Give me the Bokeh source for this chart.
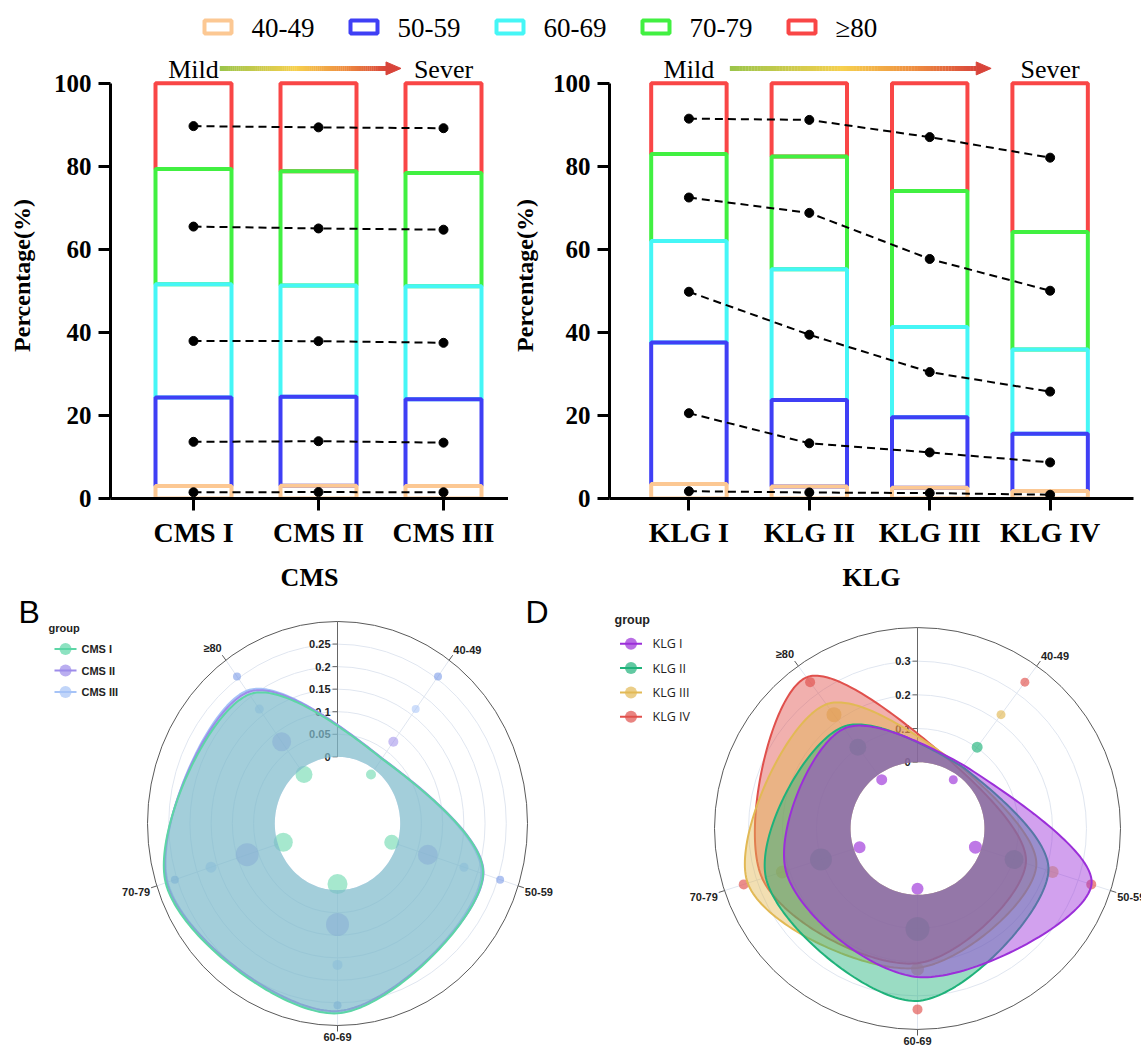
import math
import numpy as np
from bokeh.plotting import figure
from bokeh.layouts import column, row
from bokeh.models import Range1d, FixedTicker, Label
from bokeh.core.properties import value
from bokeh.embed import file_html
from bokeh.resources import INLINE

# ---------------- data ----------------
age_groups = ["40-49", "50-59", "60-69", "70-79", "≥80"]
cms_groups = ["CMS I", "CMS II", "CMS III"]
klg_groups = ["KLG I", "KLG II", "KLG III", "KLG IV"]

# percentage of each age group within each severity grade
cms_pct_40_49 = [3.0, 3.1, 3.0]
cms_pct_50_59 = [21.3, 21.4, 20.9]
cms_pct_60_69 = [27.3, 26.8, 27.2]
cms_pct_70_79 = [27.8, 27.5, 27.3]
cms_pct_80_up = [20.6, 21.2, 21.6]

klg_pct_40_49 = [3.5, 2.9, 2.6, 1.8]
klg_pct_50_59 = [34.1, 20.8, 17.0, 13.8]
klg_pct_60_69 = [24.4, 31.5, 21.7, 20.3]
klg_pct_70_79 = [21.0, 27.2, 32.8, 28.3]
klg_pct_80_up = [17.0, 17.6, 25.9, 35.8]

y_ticks = [0, 20, 40, 60, 80, 100]
cms_radial_ticks = [0, 0.05, 0.1, 0.15, 0.2, 0.25]
cms_radial_labels = ["0", "0.05", "0.1", "0.15", "0.2", "0.25"]
cms_radial_max = 0.3
klg_radial_ticks = [0, 0.1, 0.2, 0.3]
klg_radial_labels = ["0", "0.1", "0.2", "0.3"]
klg_radial_max = 0.4

# marker sizes of the dot rings on the radar panels (inner ring -> outer ring), per age group
cms_dot_ring1 = [10, 15, 20, 19, 17]
cms_dot_ring2 = [10, 20, 23, 23, 19]
cms_dot_ring3 = [8, 9, 10, 11, 9]
cms_dot_ring4 = [8, 8, 8, 8, 8]
klg_dot_ring1 = [9, 13, 12, 12, 11]
klg_dot_ring2 = [11, 19, 24, 22, 17]
klg_dot_ring3 = [9, 12, 13, 13, 15]
klg_dot_ring4 = [9, 10, 10, 10, 10]

# ---------------- styles ----------------
SERIF = "Liberation Serif"
SANS = "Liberation Sans"
AGE_COLORS = ["#fcc893", "#3f3ff5", "#45f6f6", "#41f041", "#f94646"]
CMS_COLORS = ["#5dd6a6", "#9d8cea", "#a6c3f7"]
CMS_DOT_COLORS = ["#5dd6a6", "#9d8cea", "#a6c3f7", "#6f92e6"]
KLG_COLORS = ["#9b2fd9", "#1fb27a", "#e2b955", "#e0504c"]
GRID = "#e0e6f0"
PX_PER_Y = 4.17
Y_END = 448 / PX_PER_Y


def grad_color(t):
    stops = [(0.0, (156, 197, 75)), (0.45, (246, 208, 78)), (0.75, (238, 140, 64)), (1.0, (216, 68, 58))]
    for (t0, c0), (t1, c1) in zip(stops[:-1], stops[1:]):
        if t <= t1:
            f = (t - t0) / (t1 - t0)
            c = [int(round(a + (b - a) * f)) for a, b in zip(c0, c1)]
            return "#%02x%02x%02x" % tuple(c)
    return "#d8443a"


def bar_panel(groups, pct_by_age, fig_w, border_left, border_right, x_start, x_end, px_per_x,
              x_title, letter, letter_x, arrow_x0, arrow_x1, title_standoff):
    p = figure(width=fig_w, height=550, x_range=Range1d(x_start, x_end),
               y_range=Range1d(0, Y_END), output_backend="svg", toolbar_location=None,
               min_border_left=border_left, min_border_right=border_right, min_border_top=8,
               min_border_bottom=94)
    p.outline_line_color = None
    p.xgrid.visible = False
    p.ygrid.visible = False
    idx = list(range(len(groups)))
    bar_w = 76.0 / px_per_x
    cum = np.zeros(len(groups))
    bottoms, tops = [], []
    for pct in pct_by_age:
        bottoms.append(cum.copy())
        cum = cum + np.array(pct, dtype=float)
        tops.append(cum.copy())
    for a in reversed(range(len(pct_by_age))):
        p.vbar(x=idx, bottom=bottoms[a], top=tops[a], width=bar_w, fill_color=None,
               line_color=AGE_COLORS[a], line_width=4)
    for a in range(len(pct_by_age)):
        mids = (bottoms[a] + tops[a]) / 2.0
        p.line(idx, mids, line_dash="8 5", line_width=2, line_color="black")
        p.scatter(idx, mids, size=9, color="black")

    # severity arrow with colour gradient
    y_ar = 103.6
    head_len = 15.0 / px_per_x
    half_h = 6.5 / PX_PER_Y
    n = 80
    xs = np.linspace(arrow_x0, arrow_x1 - head_len, n + 1)
    cols = [grad_color(i / n) for i in range(n)]
    p.segment(x0=xs[:-1], y0=[y_ar] * n, x1=xs[1:] + 0.002, y1=[y_ar] * n,
              line_color=cols, line_width=5)
    p.patch([arrow_x1 - head_len, arrow_x1 - head_len, arrow_x1],
            [y_ar - half_h, y_ar + half_h, y_ar], fill_color="#d8443a", line_color="#d8443a")
    p.text(x=[0, len(groups) - 1], y=[y_ar - 0.3, y_ar - 0.3], text=["Mild", "Sever"],
           text_font=value(SERIF), text_font_size="26px", text_align="center",
           text_baseline="middle", text_color="black")

    p.add_layout(Label(x=letter_x, y=100.6, text=letter, text_font=SANS,
                       text_font_size="32px", text_baseline="alphabetic", text_align="left",
                       text_color="black"))

    ya = p.yaxis[0]
    ya.ticker = FixedTicker(ticks=y_ticks)
    ya.bounds = (0, 100)
    ya.axis_line_width = 3
    ya.major_tick_line_width = 3
    ya.major_tick_out = 12
    ya.major_tick_in = 0
    ya.minor_tick_line_color = None
    ya.major_label_standoff = 7
    ya.major_label_text_font = SERIF
    ya.major_label_text_font_size = "25px"
    ya.major_label_text_font_style = "bold"
    ya.major_label_text_color = "black"
    ya.axis_label = "Percentage(%)"
    ya.axis_label_text_font = SERIF
    ya.axis_label_text_font_size = "24px"
    ya.axis_label_text_font_style = "bold"
    ya.axis_label_text_color = "black"
    ya.axis_label_standoff = title_standoff

    xa = p.xaxis[0]
    xa.ticker = FixedTicker(ticks=idx)
    xa.major_label_overrides = {i: g for i, g in enumerate(groups)}
    xa.axis_line_width = 3
    xa.major_tick_line_width = 3
    xa.major_tick_out = 12
    xa.major_tick_in = 0
    xa.minor_tick_line_color = None
    xa.major_label_standoff = 6
    xa.major_label_text_font = SERIF
    xa.major_label_text_font_size = "28px"
    xa.major_label_text_font_style = "bold"
    xa.major_label_text_color = "black"
    xa.axis_label = x_title
    xa.axis_label_text_font = SERIF
    xa.axis_label_text_font_size = "26px"
    xa.axis_label_text_font_style = "bold"
    xa.axis_label_text_color = "black"
    xa.axis_label_standoff = 12
    return p


def make_tangent(prev, this, nxt, s=1.0):
    d1x, d1y = prev[0] - this[0], prev[1] - this[1]
    d2x, d2y = nxt[0] - this[0], nxt[1] - this[1]
    d1a = (d1x * d1x + d1y * d1y) ** 0.25
    d2a = (d2x * d2x + d2y * d2y) ** 0.25
    numx = (d2a * d2a * d1x - d1a * d1a * d2x) * s
    numy = (d2a * d2a * d1y - d1a * d1a * d2y) * s
    den1 = 3 * d2a * (d1a + d2a)
    den2 = 3 * d1a * (d1a + d2a)
    return ((this[0] + numx / den1, this[1] + numy / den1),
            (this[0] - numx / den2, this[1] - numy / den2))


def open_spline(pts, n=50):
    """Smooth path through pts (first point repeated at the end), quadratic end pieces."""
    m = len(pts)
    tans = [make_tangent(pts[i - 1], pts[i], pts[i + 1]) for i in range(1, m - 1)]
    xs, ys = [], []
    ts = np.linspace(0, 1, n, endpoint=False)

    def quad(p0, c, p1):
        for t in ts:
            u = 1 - t
            xs.append(u * u * p0[0] + 2 * u * t * c[0] + t * t * p1[0])
            ys.append(u * u * p0[1] + 2 * u * t * c[1] + t * t * p1[1])

    def cubic(p0, p1, p2, p3):
        for t in ts:
            u = 1 - t
            xs.append(u ** 3 * p0[0] + 3 * u * u * t * p1[0] + 3 * u * t * t * p2[0] + t ** 3 * p3[0])
            ys.append(u ** 3 * p0[1] + 3 * u * u * t * p1[1] + 3 * u * t * t * p2[1] + t ** 3 * p3[1])

    quad(pts[0], tans[0][0], pts[1])
    for i in range(2, m - 1):
        cubic(pts[i - 1], tans[i - 2][1], tans[i - 1][0], pts[i])
    quad(pts[m - 2], tans[m - 3][1], pts[m - 1])
    xs.append(pts[m - 1][0])
    ys.append(pts[m - 1][1])
    return xs, ys


def radar_panel(fig_w, x_range, y_range, rx, ry, groups, pct_by_age, vmax, rticks, rlabels,
                colors, dot_colors, dot_rings, fill_alpha, dot_alpha, leg, letters, leg_font,
                leg_style, leg_size):
    p = figure(width=fig_w, height=451, x_range=Range1d(*x_range), y_range=Range1d(*y_range),
               output_backend="svg", toolbar_location=None, x_axis_location=None,
               y_axis_location=None, min_border=0)
    p.outline_line_color = None
    p.xgrid.visible = False
    p.ygrid.visible = False
    hole = 0.33
    angles = [math.radians(36 + 72 * a) for a in range(len(age_groups))]

    def rr(v):
        return hole + (1 - hole) * v / vmax

    # grid rings and spokes
    for t in rticks[1:]:
        r = rr(t)
        p.ellipse(x=0, y=0, width=2 * r * rx, height=2 * r * ry, fill_color=None,
                  line_color=GRID, line_width=1)
    p.segment(x0=[hole * math.sin(t) * rx for t in angles], y0=[hole * math.cos(t) * ry for t in angles],
              x1=[math.sin(t) * rx for t in angles], y1=[math.cos(t) * ry for t in angles],
              line_color=GRID, line_width=1)
    p.ellipse(x=0, y=0, width=2 * rx, height=2 * ry, fill_color=None, line_color="#5a5a5a",
              line_width=1)
    # angular ticks and labels
    tick_len = 6
    p.segment(x0=[math.sin(t) * rx for t in angles], y0=[math.cos(t) * ry for t in angles],
              x1=[math.sin(t) * (rx + tick_len) for t in angles],
              y1=[math.cos(t) * (ry + tick_len) for t in angles], line_color="#5a5a5a")
    for a, t in enumerate(angles):
        s, c = math.sin(t), math.cos(t)
        align = "left" if s > 0.2 else ("right" if s < -0.2 else "center")
        base = "bottom" if c > 0.2 else ("top" if c < -0.2 else "middle")
        p.text(x=[s * (rx + tick_len + 1)], y=[c * (ry + tick_len + 1)], text=[age_groups[a]],
               text_font=value(SANS), text_font_style="bold", text_font_size="11px",
               text_color="#222222", text_align=align, text_baseline=base)
    # radial axis
    p.segment(x0=[0], y0=[hole * ry], x1=[0], y1=[ry], line_color="#666666", line_width=1)
    p.segment(x0=[-5] * len(rticks), y0=[rr(t) * ry for t in rticks], x1=[0] * len(rticks),
              y1=[rr(t) * ry for t in rticks], line_color="#666666")
    p.text(x=[-7] * len(rticks), y=[rr(t) * ry for t in rticks], text=rlabels,
           text_font=value(SANS), text_font_style="bold", text_font_size="11px",
           text_color="#222222", text_align="right", text_baseline="middle")

    # dot rings (drawn under the filled areas)
    for k, sizes in enumerate(dot_rings):
        r = 0.1 + 0.2 * (k + 1)
        p.scatter(x=[r * math.sin(t) * rx for t in angles], y=[r * math.cos(t) * ry for t in angles],
                  size=sizes, fill_color=dot_colors[k], fill_alpha=dot_alpha, line_color=None)

    # smoothed filled areas, clipped to the annulus (last group at the bottom)
    hx = [hole * rx * math.cos(u) for u in np.linspace(0, 2 * math.pi, 160, endpoint=False)]
    hy = [hole * ry * math.sin(u) for u in np.linspace(0, 2 * math.pi, 160, endpoint=False)]
    for g in reversed(range(len(groups))):
        pts = []
        for a, t in enumerate(angles):
            r = rr(pct_by_age[a][g] / 100.0)
            pts.append((r * math.sin(t), r * math.cos(t)))
        pts.append(pts[0])
        xs, ys = open_spline(pts)
        X = [x * rx for x in xs]
        Y = [y * ry for y in ys]
        p.multi_polygons(xs=[[[X, hx]]], ys=[[[Y, hy]]], fill_color=colors[g],
                         fill_alpha=fill_alpha, line_color=None)
        p.line(X, Y, line_color=colors[g], line_width=2)

    # legend
    lx, ly, dy, gx, tx = leg
    p.text(x=[lx], y=[ly], text=["group"], text_font=value(SANS), text_font_style="bold",
           text_font_size=leg_size, text_color="#222222", text_baseline="middle")
    for g, name in enumerate(groups):
        yy = ly - dy * (g + 1)
        p.segment(x0=[gx - 11], y0=[yy], x1=[gx + 11], y1=[yy], line_color=colors[g], line_width=2)
        p.scatter(x=[gx], y=[yy], size=12, fill_color=colors[g], fill_alpha=0.7, line_color=None)
        p.text(x=[tx], y=[yy], text=[name], text_font=value(leg_font), text_font_style=leg_style,
               text_font_size=leg_size, text_color="#222222", text_baseline="middle")
    for (ltx, lty, lt) in letters:
        p.text(x=[ltx], y=[lty], text=[lt], text_font=value(SANS), text_font_size="32px",
               text_color="black", text_baseline="alphabetic")
    return p


# ---------------- top legend ----------------
leg = figure(width=1141, height=44, x_range=Range1d(0, 1141), y_range=Range1d(44, 0),
             output_backend="svg", toolbar_location=None, x_axis_location=None,
             y_axis_location=None, min_border=0)
leg.outline_line_color = None
leg.xgrid.visible = False
leg.ygrid.visible = False
item_left = [202 + 146 * i for i in range(len(age_groups))]
leg.rect(x=[l + 15.5 for l in item_left], y=[26.5] * 5, width=27, height=13, fill_color="white",
         line_color=AGE_COLORS, line_width=4)
leg.text(x=[l + 49 for l in item_left], y=[27] * 5, text=age_groups, text_font=value(SERIF),
         text_font_size="27px", text_color="black", text_baseline="middle")

# ---------------- bar panels ----------------
cms_by_age = [cms_pct_40_49, cms_pct_50_59, cms_pct_60_69, cms_pct_70_79, cms_pct_80_up]
klg_by_age = [klg_pct_40_49, klg_pct_50_59, klg_pct_60_69, klg_pct_70_79, klg_pct_80_up]

pA = bar_panel(cms_groups, cms_by_age, 508, 110, 0, -0.664, 2.52, 125.0, "CMS", "A", -1.416,
               0.21, 1.66, 16)
pC = bar_panel(klg_groups, klg_by_age, 633, 97, 8, -0.6595, 3.6925, 121.3, "KLG", "C", -1.344,
               0.34, 2.51, 12)

# ---------------- radar panels ----------------
pB = radar_panel(580, (-337, 243), (-222, 229), 190, 202, cms_groups, cms_by_age, cms_radial_max,
                 cms_radial_ticks, cms_radial_labels, CMS_COLORS, CMS_DOT_COLORS,
                 [cms_dot_ring1, cms_dot_ring2, cms_dot_ring3, cms_dot_ring4], 0.35, 0.55,
                 (-289, 196, 21.5, -272, -256), [(-319, 212, "B"), (188, 212, "D")],
                 SANS, "bold", "11px")
pD = radar_panel(561, (-337, 224), (-217, 234), 203, 201, klg_groups, klg_by_age, klg_radial_max,
                 klg_radial_ticks, klg_radial_labels, KLG_COLORS, KLG_COLORS,
                 [klg_dot_ring1, klg_dot_ring2, klg_dot_ring3, klg_dot_ring4], 0.45, 0.65,
                 (-303, 209, 24.3, -286.5, -265), [], "Open Sans", "normal", "12.5px")

layout = column(leg, row(pA, pC), row(pB, pD))
open("out.html", "w").write(file_html(layout, INLINE))
